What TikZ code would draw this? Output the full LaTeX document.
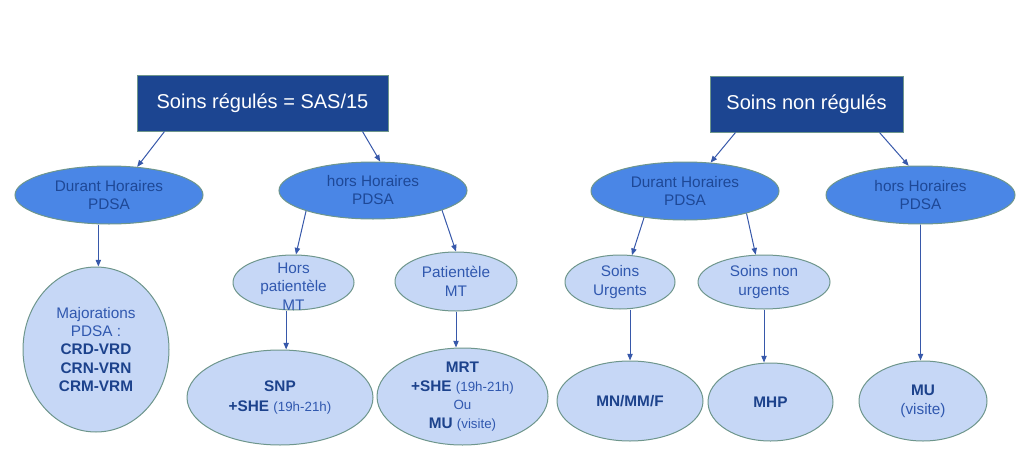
\documentclass[tikz,border=0pt]{standalone}
\usepackage{fontspec}
\setmainfont{Liberation Sans}
\usetikzlibrary{shapes.geometric,arrows.meta}

\tikzset{every picture/.style={line width=0.75pt}}
\tikzset{
  titlebox/.style={draw={rgb, 255:red, 110; green, 150; blue, 140 }, fill={rgb, 255:red, 28; green, 69; blue, 145 }, text=white, minimum height=42pt, inner sep=0pt, font=\fontsize{15}{18}\selectfont},
  midbubble/.style={ellipse, draw={rgb, 255:red, 110; green, 150; blue, 140 }, fill={rgb, 255:red, 74; green, 134; blue, 230 }, text={rgb, 255:red, 30; green, 72; blue, 150 }, align=center, inner sep=0pt, font=\fontsize{11.5}{13.5}\selectfont},
  leafbubble/.style={ellipse, draw={rgb, 255:red, 110; green, 150; blue, 140 }, fill={rgb, 255:red, 198; green, 215; blue, 246 }, text={rgb, 255:red, 48; green, 88; blue, 175 }, align=center, inner sep=0pt, font=\fontsize{11.5}{14}\selectfont},
  link/.style={draw={rgb, 255:red, 55; green, 88; blue, 170 }, -{Triangle[length=5pt,width=4pt]}},
}
\newcommand{\codebf}[1]{{\bfseries\color[rgb]{0.11,0.26,0.55}#1}}
\newcommand{\hrs}[1]{{\fontsize{10}{12}\selectfont #1}}

\begin{document}
\begin{tikzpicture}[x=0.75pt,y=0.75pt,yscale=-1,xscale=1]
\useasboundingbox (0,0) rectangle (1024,464);
%Shape: Rectangle [id:box1]
\node[titlebox, minimum width=188.25pt] (reg) at (262.5,103) {Soins régulés = SAS/15};
%Shape: Rectangle [id:box2]
\node[titlebox, minimum width=144.75pt] (nonreg) at (806.5,104) {Soins non régulés};
%Shape: Ellipse [id:level1]
\node[midbubble, minimum width=141pt, minimum height=43.5pt] (durA) at (109,195) {Durant Horaires\\PDSA};
\node[midbubble, minimum width=141pt, minimum height=42.75pt] (horsA) at (373,190.5) {hors Horaires\\PDSA};
\node[midbubble, minimum width=141pt, minimum height=43.5pt] (durB) at (685,191) {Durant Horaires\\PDSA};
\node[midbubble, minimum width=141.75pt, minimum height=43.5pt] (horsB) at (920.5,195) {hors Horaires\\PDSA};
%Shape: Ellipse [id:level2]
\node[leafbubble, minimum width=90.75pt, minimum height=41.25pt, inner ysep=-10pt] (horspat) at (293.5,282.5) {\rule{0pt}{14pt}Hors\\patientèle\\MT};
\node[leafbubble, minimum width=91.5pt, minimum height=44.25pt] (pat) at (456,281.5) {Patientèle\\MT};
\node[leafbubble, minimum width=82.5pt, minimum height=40.5pt] (urg) at (620,282) {Soins\\Urgents};
\node[leafbubble, minimum width=99pt, minimum height=40.5pt] (nurg) at (764,282) {Soins non\\urgents};
%Shape: Ellipse [id:level3]
\node[leafbubble, minimum width=109.5pt, minimum height=123.75pt, font=\fontsize{11.5}{13.7}\selectfont] (maj) at (96,349.5) {Majorations\\PDSA :\\\codebf{CRD-VRD}\\\codebf{CRN-VRN}\\\codebf{CRM-VRM}};
\node[leafbubble, minimum width=139.5pt, minimum height=71.25pt, font=\fontsize{11.5}{15}\selectfont] (snp) at (280,397.5) {\codebf{SNP}\\\codebf{+SHE} \hrs{(19h-21h)}};
\node[leafbubble, minimum width=128.25pt, minimum height=72.75pt, inner ysep=-4pt] (mrt) at (462.5,396.5) {\codebf{MRT}\\\codebf{+SHE} \hrs{(19h-21h)}\\\hrs{Ou}\\\codebf{MU} \hrs{(visite)}};
\node[leafbubble, minimum width=109.5pt, minimum height=60pt] (mn) at (630,401) {\codebf{MN/MM/F}};
\node[leafbubble, minimum width=93.75pt, minimum height=58.5pt] (mhp) at (770.5,402) {\codebf{MHP}};
\node[leafbubble, minimum width=96pt, minimum height=60pt] (mu) at (923,401) {\codebf{MU}\\(visite)};
%Straight Lines [id:links]
\draw[link] ([xshift=21pt]reg.south west) -- (durA.45);
\draw[link] ([xshift=-19.5pt]reg.south east) -- (horsA.76);
\draw[link] ([xshift=19.5pt]nonreg.south west) -- (durB.48);
\draw[link] ([xshift=-18pt]nonreg.south east) -- (horsB.112);
\draw[link] ([xshift=-8pt]durA.south) -- ([xshift=-8pt]durA.south |- maj.north);
\draw[link] (horsA.197) -- (horspat.85);
\draw[link] (horsA.-16) -- (pat.north);
\draw[link] ([xshift=-5.5pt]horspat.south) -- ([xshift=-5.5pt]horspat.south |- snp.north);
\draw[link] (pat.south) -- (pat.south |- mrt.north);
\draw[link] (durB.213) -- (urg.66);
\draw[link] (durB.-20) -- (nurg.107);
\draw[link] (horsB.south) -- (horsB.south |- mu.north);
\draw[link] (urg.south -| mn.north) -- (mn.north);
\draw[link] (nurg.south) -- (nurg.south |- mhp.north);
\end{tikzpicture}
\end{document}
